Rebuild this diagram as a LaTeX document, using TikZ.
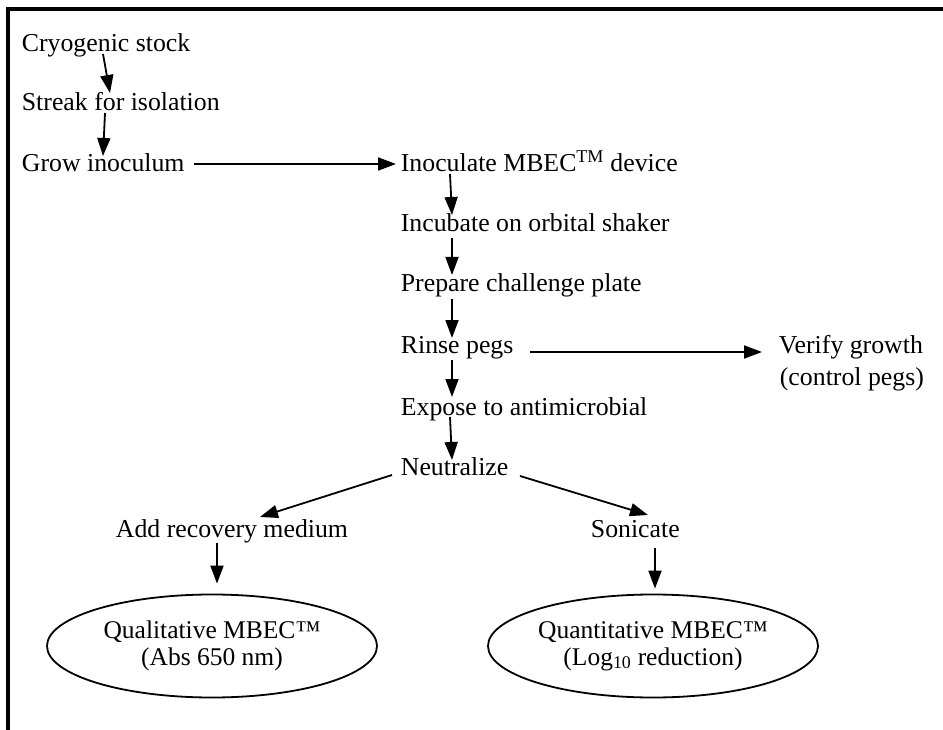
\documentclass[tikz,border=0pt]{standalone}
\usepackage{fontspec}
\setmainfont{Liberation Serif}
\usetikzlibrary{arrows.meta,shapes.geometric}

\begin{document}
\begin{tikzpicture}
[x=1pt, y=-1pt, line width=1.8pt, >={Triangle[length=18pt,width=13pt]},
 stage/.style={anchor=base west, inner sep=0pt, font=\fontsize{25.8}{30}\selectfont},
 result/.style={draw, ellipse, line width=1.8pt, minimum width=330pt, minimum height=103pt,
                inner sep=0pt, align=center, font=\fontsize{25.5}{27}\selectfont}]

\useasboundingbox (0,0) rectangle (943,730);

% Frame:
\draw[line width=3.5pt] (8,730) -- (8,9) -- (943,9);

% Culture steps:
\node[stage] (cryo)   at (21,52)  {Cryogenic stock};
\node[stage] (streak) at (21,111) {Streak for isolation};
\node[stage] (grow)   at (21,172) {Grow inoculum};

% Device steps:
\node[stage] (inoc)    at (400,172) {Inoculate MBEC\textsuperscript{TM} device};
\node[stage] (incub)   at (400,232) {Incubate on orbital shaker};
\node[stage] (prep)    at (400,292) {Prepare challenge plate};
\node[stage] (rinse)   at (400,353) {Rinse pegs};
\node[stage] (expose)  at (400,415) {Expose to antimicrobial};
\node[stage] (neut)    at (400,475) {Neutralize};
\node[stage] (verify)  at (778,353) {Verify growth};
\node[stage] (ctrl)    at (779,385) {(control pegs)};
\node[stage] (recover) at (115,537) {Add recovery medium};
\node[stage] (sonic)   at (590,537) {Sonicate};

% Results:
\node[result] (qual)  at (212,646) {Qualitative MBEC™\\(Abs 650 nm)};
\node[result] (quant) at (653,646) {Quantitative MBEC™\\(Log\textsubscript{10} reduction)};

% Arrows:
\draw[->] ([shift={(82,2)}]cryo.base west)    -- ([shift={(89,-18)}]streak.base west);
\draw[->] ([shift={(84,2)}]streak.base west)  -- ([shift={(82,-16)}]grow.base west);
\draw[->] ([shift={(173,-8)}]grow.base west)  -- ([shift={(-4,-8)}]inoc.base west);
\draw[->] ([shift={(50,2)}]inoc.base west)    -- ([shift={(52,-17)}]incub.base west);
\draw[->] ([shift={(52,6)}]incub.base west)   -- ([shift={(52,-17)}]prep.base west);
\draw[->] ([shift={(52,7)}]prep.base west)    -- ([shift={(52,-15)}]rinse.base west);
\draw[->] ([shift={(52,7)}]rinse.base west)   -- ([shift={(52,-18)}]expose.base west);
\draw[->] ([shift={(50,2)}]expose.base west)  -- ([shift={(52,-15)}]neut.base west);
\draw[->] ([shift={(130,-1)}]rinse.base west) -- ([shift={(-16,-1)}]verify.base west);
\draw[->] ([shift={(-8,0)}]neut.base west)    -- ([shift={(145,-20)}]recover.base west);
\draw[->] ([shift={(120,1)}]neut.base west)   -- ([shift={(58,-22)}]sonic.base west);
\draw[->] ([shift={(102,6)}]recover.base west) -- ([shift={(5,-10)}]qual.north);
\draw[->] ([shift={(65,11)}]sonic.base west)  -- ([shift={(2,-5)}]quant.north);

\end{tikzpicture}
\end{document}
